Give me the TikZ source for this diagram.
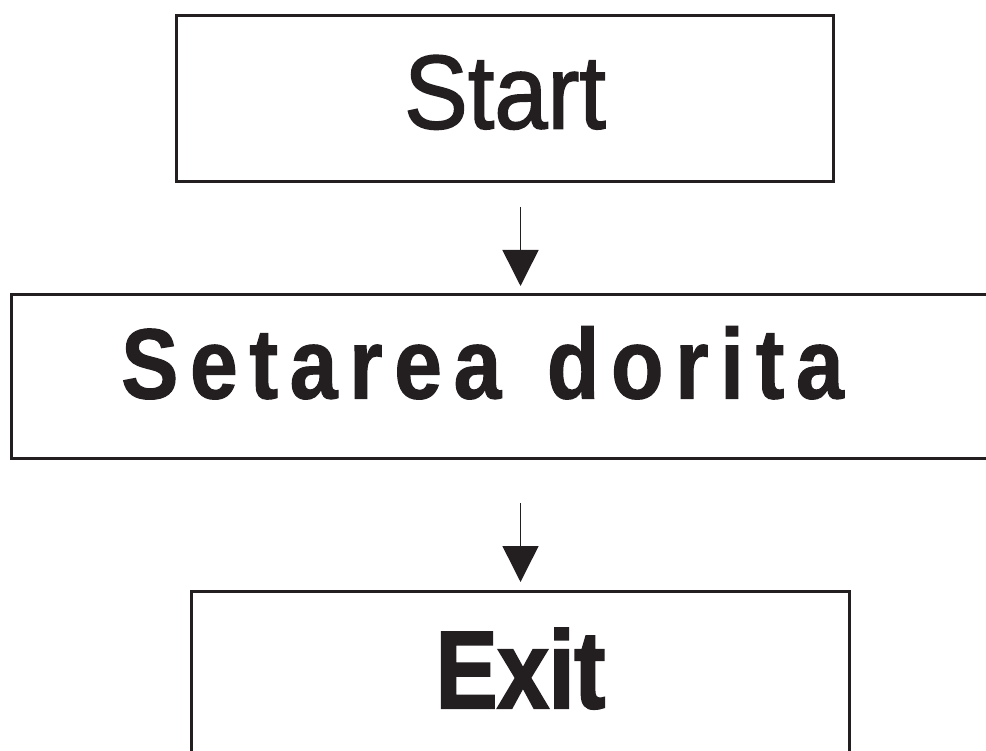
\documentclass[tikz,border=0pt]{standalone}
\usepackage{fontspec}
\setmainfont{Liberation Sans}
\newfontfamily\startfont{Liberation Sans}[FakeStretch=0.91,FakeBold=1.5]
\newfontfamily\settingfont{Liberation Sans Bold}[FakeStretch=0.86,FakeBold=1,LetterSpace=11.6]
\newfontfamily\exitfont{Liberation Sans Bold}[FakeStretch=0.84,FakeBold=2]
\usetikzlibrary{arrows.meta}
\definecolor{ink}{HTML}{231F20}
\tikzstyle{line} = [draw=ink, line width=1.5pt, -{Triangle[width=36pt,length=36pt]}]
\tikzstyle{block} = [draw=ink, line width=3pt, rectangle, inner sep=0pt, anchor=north west, text=ink, align=center]

\begin{document}
\begin{tikzpicture}[x=1pt, y=-1pt]
        \useasboundingbox (0,0) rectangle (986,751);
        \clip (0,0) rectangle (986,751);
        \node[block, minimum width=657pt, minimum height=166pt] (start) at (175,14)
            {\raisebox{-30pt}[0pt][0pt]{\startfont\fontsize{105}{105}\selectfont Start}};
        \node[block, minimum width=1000pt, minimum height=164pt] (setting) at (10,293)
            {\raisebox{-22pt}[0pt][0pt]{\settingfont\fontsize{100}{100}\selectfont\hspace*{-58pt}Setarea\hspace{10pt} dorita}};
        \node[block, minimum width=658pt, minimum height=200pt] (exit) at (190,590)
            {\raisebox{-16.5pt}[0pt][0pt]{\exitfont\fontsize{110}{110}\selectfont Exit}};
        \path[line] ([yshift=-24pt]start.south -| exit.north) -- ([yshift=7pt]setting.north -| exit.north);
        \path[line] ([yshift=-43pt]setting.south -| exit.north) -- ([yshift=8pt]exit.north);
\end{tikzpicture}
\end{document}
